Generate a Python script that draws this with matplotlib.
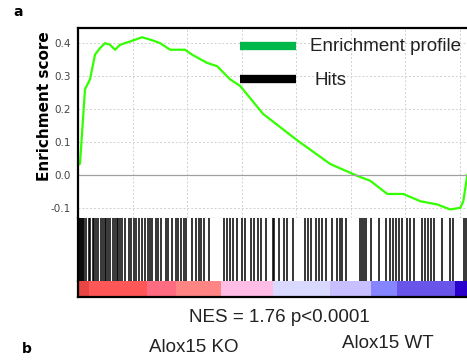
import numpy as np
import matplotlib.pyplot as plt

# running enrichment score (rank in list, ES)
rank = [0, 73, 147, 257, 440, 624, 807, 991, 1174, 1358, 1541, 1908, 2349, 2752,
        3009, 3376, 3927, 4183, 4734, 5101, 5578, 5945, 6789, 8037, 9248, 10239,
        10716, 11339, 11927, 12550, 13174, 13651, 14018, 14128, 14275]
es = [0.03, 0.034, 0.125, 0.26, 0.29, 0.365, 0.385, 0.40, 0.395, 0.38, 0.395, 0.405,
      0.418, 0.408, 0.40, 0.38, 0.38, 0.365, 0.34, 0.33, 0.29, 0.27, 0.185, 0.105,
      0.033, -0.003, -0.018, -0.058, -0.058, -0.08, -0.09, -0.105, -0.10, -0.08, 0.0]

# positions of the gene set members (hits)
hits = [37, 73, 110, 147, 183, 220, 294, 404, 440, 550, 587, 661, 734, 844, 917, 991,
        1028, 1101, 1174, 1284, 1358, 1431, 1468, 1541, 1615, 1725, 1872, 1945, 2055,
        2129, 2239, 2349, 2459, 2569, 2642, 2716, 2862, 2936, 3046, 3230, 3303, 3450,
        3597, 3670, 3780, 3890, 3963, 4183, 4330, 4440, 4514, 4624, 4807, 5358, 5468,
        5578, 5688, 5835, 6018, 6128, 6349, 6459, 6606, 6716, 6900, 7156, 7193, 7376,
        7560, 7670, 7890, 8330, 8440, 8551, 8735, 8845, 8955, 9102, 9322, 9505, 9615,
        9689, 9836, 10349, 10423, 10496, 10570, 10753, 11047, 11304, 11450, 11560,
        11671, 11781, 11891, 12074, 12184, 12331, 12625, 12735, 12845, 12955, 13065,
        13358, 13651, 13761, 14165, 14239]

# ranked-list heat bar
seg_edges = [0, 404, 2532, 3596, 5248, 7156, 9248, 10753, 11707, 13835, 14300]
seg_colors = ['#e84545', '#ff5757', '#ff6b80', '#ff8585', '#ffbde6',
              '#d9d9ff', '#c7bfff', '#8585ff', '#6a55ea', '#2a00cc']

W, H = 467, 360
fig = plt.figure(figsize=(W / 100, H / 100), dpi=100)

def box(x0, y0, x1, y1):
    return [x0 / W, 1 - y1 / H, (x1 - x0) / W, (y1 - y0) / H]

ax = fig.add_axes(box(78, 28, 468, 218))
axh = fig.add_axes(box(78, 218, 468, 281))
axc = fig.add_axes(box(78, 281, 468, 297))

# enrichment curve
ax.plot(rank, es, color='#33ff00', lw=1.6)
ax.axhline(0, color='#a0a0a0', lw=0.9)
ax.set_xlim(0, 14300)
ax.set_ylim(-0.131, 0.446)
ax.set_xticks(np.arange(0, 14300, 2000))
ax.set_yticks([-0.1, 0.0, 0.1, 0.2, 0.3, 0.4])
ax.set_yticklabels(['-0.1', '0.0', '0.1', '0.2', '0.3', '0.4'])
ax.grid(True, color='#d0d0d0', ls=(0, (2, 2)), lw=0.7)
ax.tick_params(axis='x', bottom=False, labelbottom=False)
ax.tick_params(axis='y', length=0, labelsize=7.5, labelcolor='#444444', pad=5)
for s in ['top', 'left']:
    ax.spines[s].set_linewidth(1.6)
ax.spines['right'].set_visible(False)
ax.spines['bottom'].set_color('#b0b0b0')
ax.spines['bottom'].set_linewidth(0.8)

# legend drawn by hand
ax.plot([0.415, 0.56], [0.905, 0.905], transform=ax.transAxes, color='#00b84a', lw=6,
        solid_capstyle='butt', clip_on=False)
ax.plot([0.415, 0.56], [0.73, 0.73], transform=ax.transAxes, color='black', lw=6,
        solid_capstyle='butt', clip_on=False)
ax.text(0.594, 0.905, 'Enrichment profile', transform=ax.transAxes, fontsize=13.5,
        family='Liberation Sans', va='center', ha='left', color='#222222')
ax.text(0.607, 0.725, 'Hits', transform=ax.transAxes, fontsize=13.5,
        family='Liberation Sans', va='center', ha='left', color='#222222')

# hits
axh.vlines(hits, 0, 1, color='black', lw=1.1)
axh.set_xlim(0, 14300)
axh.set_ylim(0, 1)
axh.set_xticks([])
axh.set_yticks([])
for s in ['top', 'right', 'bottom']:
    axh.spines[s].set_visible(False)
axh.spines['left'].set_linewidth(1.6)

# heat bar
axc.bar(seg_edges[:-1], 1, width=np.diff(seg_edges), align='edge', color=seg_colors, lw=0)
axc.set_xlim(0, 14300)
axc.set_ylim(0, 1)
axc.set_xticks([])
axc.set_yticks([])
axc.spines['top'].set_visible(False)
axc.spines['right'].set_visible(False)
axc.spines['left'].set_linewidth(1.6)
axc.spines['bottom'].set_linewidth(1.6)

fig.text(45 / W, 1 - 106 / H, 'Enrichment score', fontsize=11, fontweight='bold',
         rotation=90, va='center', ha='center')
fig.text(18 / W, 1 - 12 / H, 'a', fontsize=10, fontweight='bold', va='center', ha='center')
fig.text(279 / W, 1 - 318 / H, 'NES = 1.76 p<0.0001', fontsize=13.5,
         family='Liberation Sans', va='center', ha='center', color='#222222')
fig.text(27 / W, 1 - 349 / H, 'b', fontsize=10, fontweight='bold', va='center', ha='center')
fig.text(194 / W, 1 - 348 / H, 'Alox15 KO', fontsize=13.5, family='Liberation Sans',
         va='center', ha='center', color='#222222')
fig.text(388 / W, 1 - 344 / H, 'Alox15 WT', fontsize=13.5, family='Liberation Sans',
         va='center', ha='center', color='#222222')

fig.savefig('out.png', dpi=100)
